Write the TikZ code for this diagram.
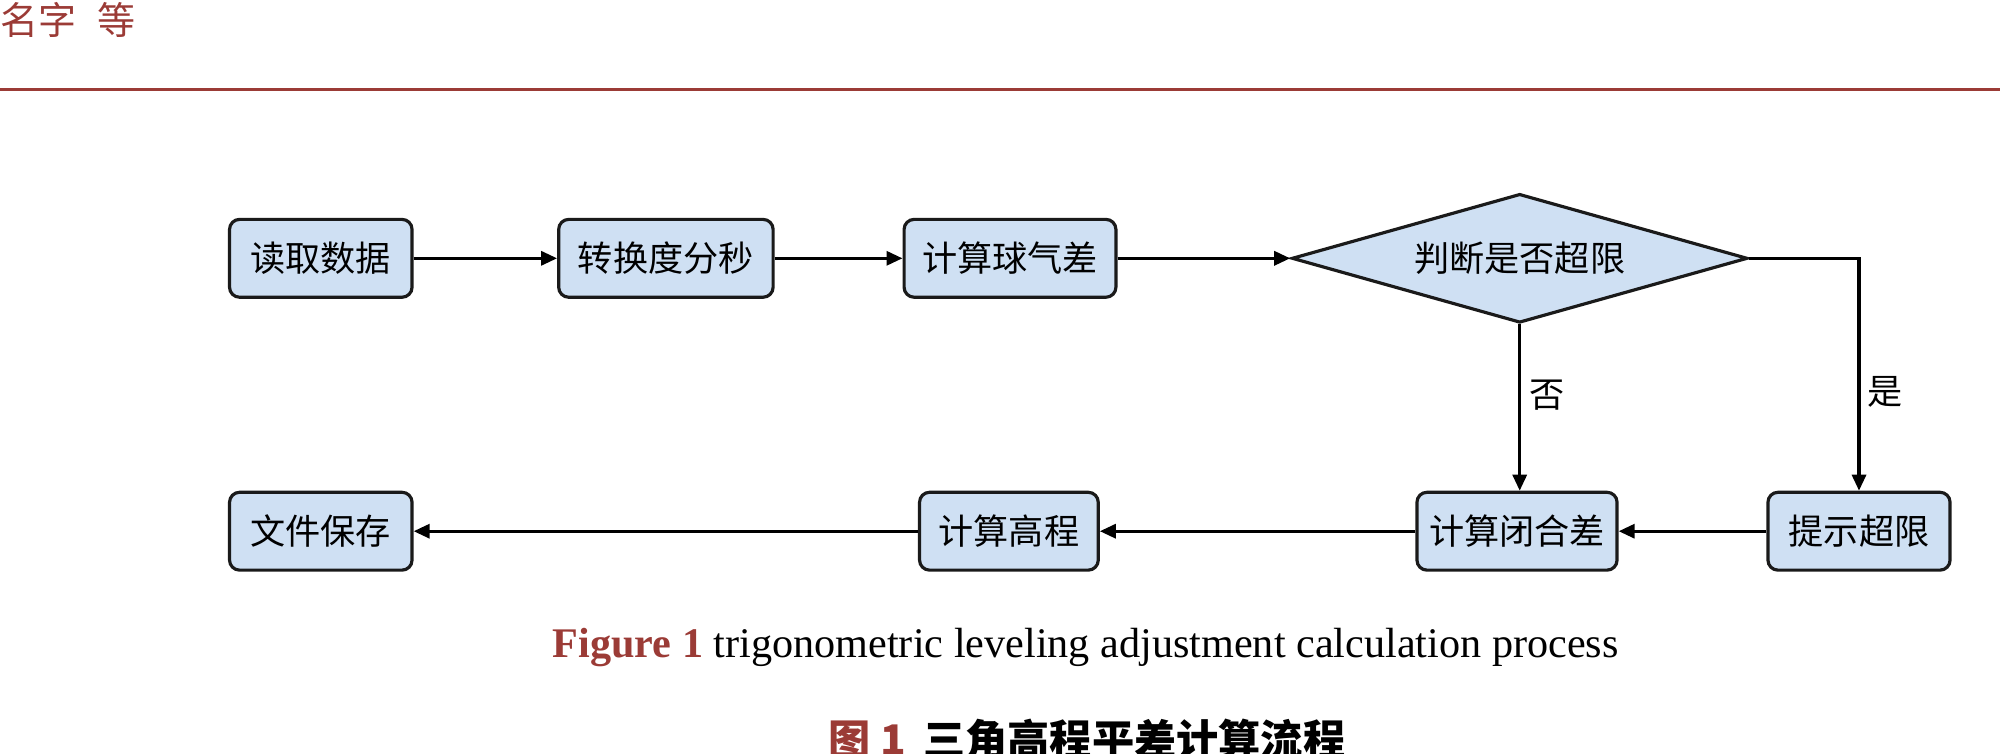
\documentclass[tikz,border=0pt]{standalone}
\usepackage{fontspec}
\setmainfont{Liberation Serif}
\newfontfamily\cjk{Noto Sans CJK SC}
\usetikzlibrary{arrows.meta,shapes.geometric,positioning}
\definecolor{boxfill}{HTML}{CFE0F3}
\definecolor{boxline}{HTML}{1A1A1A}
\definecolor{capred}{HTML}{9B3B36}
\tikzset{
  procbox/.style={draw=boxline, fill=boxfill, line width=0.9pt, rounded corners=0.1cm,
    minimum height=0.778cm, inner sep=0pt, font=\cjk\fontsize{10}{12}\selectfont},
  decbox/.style={draw=boxline, fill=boxfill, line width=0.9pt, shape=diamond, inner sep=0pt,
    aspect=3.54, minimum width=4.555cm, minimum height=1.288cm, font=\cjk\fontsize{10}{12}\selectfont},
  flow/.style={draw=black, line width=0.9pt, -{Triangle[length=0.16cm,width=0.14cm]}},
  lbl/.style={font=\cjk\fontsize{10}{12}\selectfont, inner sep=0pt}
}
\begin{document}
\begin{tikzpicture}[x=0.01cm,y=0.01cm]
\useasboundingbox (0,0) rectangle (2000,753);
% header
\node[anchor=west, inner sep=0pt, text=capred, font=\cjk\fontsize{10.8}{12}\selectfont] (hdr) at (0,733.5) {名字\hspace{0.55em}等};
\draw[capred, line width=1.1pt] (0,663.5) coordinate (rl) -- (2000,663.5) coordinate (rr);
% top row
\node[procbox, minimum width=1.824cm] (n1) at (320.8,494.7) {读取数据};
\node[procbox, minimum width=2.143cm] (n2) at (665.9,494.7) {转换度分秒};
\node[procbox, minimum width=2.117cm] (n3) at (1010,494.7) {计算球气差};
\node[decbox] (d) at (1519.7,494.7) {判断是否超限};
% bottom row
\node[procbox, minimum width=1.82cm] (n5) at (1859,221.8) {提示超限};
\node[procbox, minimum width=2.00cm] (n6) at (1517,221.8) {计算闭合差};
\node[procbox, minimum width=1.786cm] (n7) at (1008.9,221.8) {计算高程};
\node[procbox, minimum width=1.824cm] (n8) at (320.8,221.8) {文件保存};
% connectors
\draw[flow] (n1) -- (n2);
\draw[flow] (n2) -- (n3);
\draw[flow] (n3) -- (d);
\draw[flow] (d.south) -- (d.south |- n6.north);
\draw[flow] (d.east) -| (n5.north);
\draw[flow] (n5) -- (n6);
\draw[flow] (n6) -- (n7);
\draw[flow] (n7) -- (n8);
\node[lbl] (no) at (1547,357.6) {否};
\node[lbl] (yes) at (1885,361.4) {是};
% captions
\node[inner sep=0pt, font=\fontsize{12}{14}\selectfont] (cap1) at (1085.6,105) {\textcolor{capred}{\bfseries Figure 1} trigonometric leveling adjustment calculation process};
\node[inner sep=0pt, font=\cjk\bfseries\fontsize{12}{14}\selectfont] (cap2) at (1087,14) {\textcolor{capred}{图 1}\hspace{0.4em}三角高程平差计算流程};
\end{tikzpicture}
\end{document}
